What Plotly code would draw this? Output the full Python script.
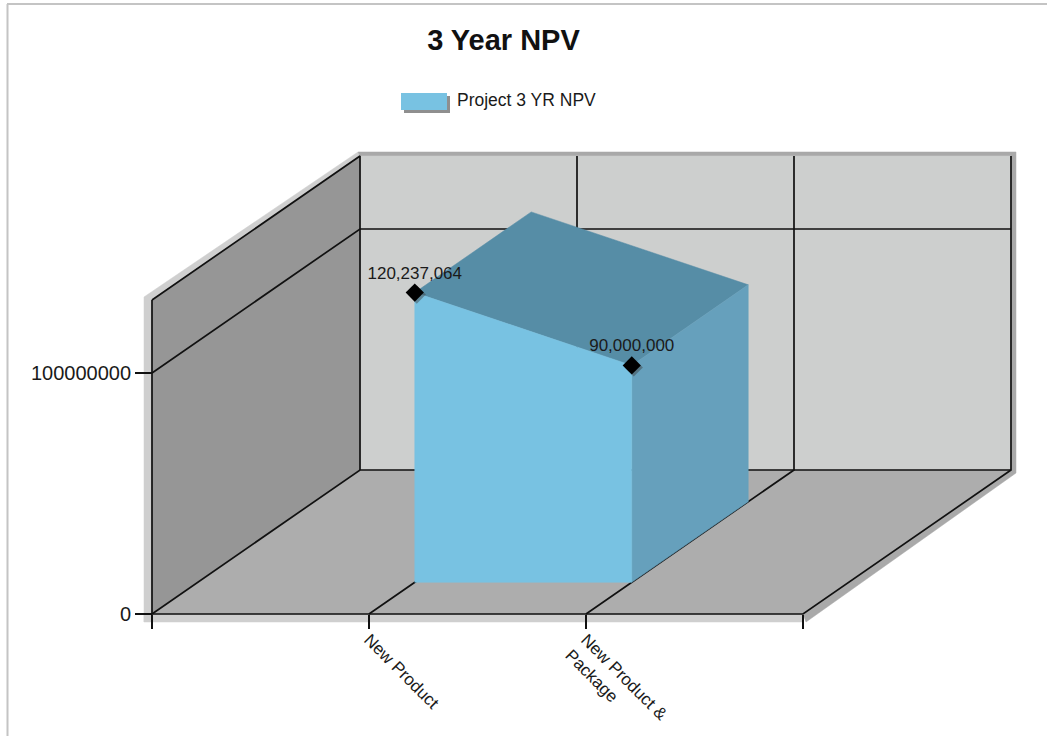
import plotly.graph_objects as go

# ---- data ----
categories = ["New Product", "New Product &<br>Package"]
category_positions = [1, 2]
npv_values = [120237064, 90000000]
npv_labels = ["120,237,064", "90,000,000"]
series_name = "Project 3 YR NPV"
title_text = "3 Year NPV"
y_ticks = [0, 100000000]
y_tick_labels = ["0", "100000000"]
x_span = 3
y_top = 130300000

# ---- layout of the pseudo-3D view (pixels) ----
W, H = 1047, 736
X0_PX, Y0_PX = 152, 614          # where category 0 / value 0 sits
PX_PER_CAT = 217.0
PX_PER_VAL = 241.0 / 100000000
DEPTH_DX, DEPTH_DY = 208.0, 144.0
SERIES_FRONT, SERIES_BACK = 0.22, 0.78


def P(cat, val, depth=0.0, ox=0.0, oy=0.0):
    """Oblique projection to axis units; ox/oy are pixel nudges (y down)."""
    x = cat + (depth * DEPTH_DX + ox) / PX_PER_CAT
    y = val + (depth * DEPTH_DY - oy) / PX_PER_VAL
    return x, y


def poly(points, color):
    xs, ys = zip(*points)
    return go.Scatter(x=list(xs) + [xs[0]], y=list(ys) + [ys[0]], mode="lines", fill="toself",
                      fillcolor=color, line=dict(color=color, width=0.5), hoverinfo="skip",
                      showlegend=False)


def line(points, width=1.7, color="#111111"):
    xs, ys = zip(*points)
    return go.Scatter(x=list(xs), y=list(ys), mode="lines", line=dict(color=color, width=width),
                      hoverinfo="skip", showlegend=False)


fig = go.Figure()
LIGHT, DARK = "#CFCFCF", "#A9A9A9"
WALL, SIDE, FLOOR = "#CDCFCE", "#969696", "#ADADAD"
FRONT, RIGHT, TOP = "#78C2E2", "#66A0BC", "#568DA6"

# frame thickness
fig.add_trace(poly([P(0, 0, 0, -8, 8), P(x_span, 0, 0, 0, 8), P(x_span, 0), P(0, 0), P(0, 0, 0, -8, 0)], LIGHT))
fig.add_trace(poly([P(0, 0, 0, -8, 8), P(0, y_top, 0, -8, -3), P(0, y_top, 1, -2, -4), P(0, y_top, 1), P(0, y_top), P(0, 0)], LIGHT))
fig.add_trace(poly([P(0, y_top, 1, -2, -4), P(x_span, y_top, 1, 5, -4), P(x_span, 0, 1, 5, 3), P(x_span, 0, 0, 3, 8),
                    P(x_span, 0), P(x_span, 0, 1), P(x_span, y_top, 1), P(0, y_top, 1)], DARK))
# walls and floor
fig.add_trace(poly([P(0, 0, 1), P(x_span, 0, 1), P(x_span, y_top, 1), P(0, y_top, 1)], WALL))
fig.add_trace(poly([P(0, 0), P(0, 0, 1), P(0, y_top, 1), P(0, y_top)], SIDE))
fig.add_trace(poly([P(0, 0), P(x_span, 0), P(x_span, 0, 1), P(0, 0, 1)], FLOOR))

# wireframe and grid
for g in y_ticks:
    fig.add_trace(line([P(0, g), P(0, g, 1), P(x_span, g, 1)]))
for c in category_positions:
    fig.add_trace(line([P(c, 0), P(c, 0, 1), P(c, y_top, 1)]))
fig.add_trace(line([P(0, y_top), P(0, y_top, 1), P(0, 0, 1)]))
fig.add_trace(line([P(x_span, y_top, 1), P(x_span, 0, 1), P(x_span, 0), P(0, 0), P(0, y_top)]))

# the area series as a solid between two depths
c1, c2 = category_positions
v1, v2 = npv_values
fig.add_trace(poly([P(c1, v1, SERIES_FRONT), P(c2, v2, SERIES_FRONT), P(c2, v2, SERIES_BACK), P(c1, v1, SERIES_BACK)], TOP))
fig.add_trace(poly([P(c2, 0, SERIES_FRONT), P(c2, 0, SERIES_BACK), P(c2, v2, SERIES_BACK), P(c2, v2, SERIES_FRONT)], RIGHT))
fig.add_trace(poly([P(c1, 0, SERIES_FRONT), P(c2, 0, SERIES_FRONT), P(c2, v2, SERIES_FRONT), P(c1, v1, SERIES_FRONT)], FRONT))

# legend entry: real legend text, the larger key is the rectangle shape below
fig.add_trace(go.Scatter(x=[None], y=[None], mode="lines", line=dict(width=0, color=FRONT),
                         name=series_name, showlegend=True, hoverinfo="skip"))

# markers and value labels
pts = [P(c, v, SERIES_FRONT) for c, v in zip(category_positions, npv_values)]
shadow = [P(c, v, SERIES_FRONT, 2, 2) for c, v in zip(category_positions, npv_values)]
fig.add_trace(go.Scatter(x=[p[0] for p in shadow], y=[p[1] for p in shadow], mode="markers",
                         marker=dict(symbol="diamond", size=14, color="rgba(60,60,60,0.45)"),
                         hoverinfo="skip", showlegend=False))
fig.add_trace(go.Scatter(x=[p[0] for p in pts], y=[p[1] for p in pts], mode="markers+text",
                         marker=dict(symbol="diamond", size=14, color="#000000"),
                         text=npv_labels, textposition="top center",
                         textfont=dict(family="Liberation Sans", size=17, color="#1a1a1a"),
                         hoverinfo="skip", showlegend=False))

fig.update_layout(
    width=W, height=H, margin=dict(l=0, r=0, t=0, b=0), autosize=False,
    paper_bgcolor="white", plot_bgcolor="white",
    font=dict(family="Liberation Sans", color="#1a1a1a"),
    title=dict(text=f"<b>{title_text}</b>", x=503.5 / W, xanchor="center", y=1 - 40 / H, yanchor="middle",
               font=dict(family="Liberation Sans", size=29, color="#111111")),
    showlegend=True,
    legend=dict(x=401 / W, y=1 - 99.5 / H, xanchor="left", yanchor="middle", bgcolor="rgba(0,0,0,0)",
                itemwidth=46, font=dict(family="Liberation Sans", size=17.5, color="#1a1a1a")),
    xaxis=dict(range=[-X0_PX / PX_PER_CAT, (W - X0_PX) / PX_PER_CAT], anchor="free", position=(H - Y0_PX) / H,
               tickmode="array", tickvals=[0] + category_positions + [x_span], ticktext=[""] + categories + [""],
               ticks="outside", ticklen=14, tickwidth=1.6, tickcolor="#111111", tickangle=45,
               ticklabelstandoff=-6,
               tickfont=dict(family="Liberation Sans", size=17, color="#1a1a1a"),
               showgrid=False, zeroline=False, showline=False, automargin=False, fixedrange=True),
    yaxis=dict(range=[-(H - Y0_PX) / PX_PER_VAL, Y0_PX / PX_PER_VAL], anchor="free", position=X0_PX / W,
               tickmode="array", tickvals=y_ticks, ticktext=y_tick_labels,
               ticks="outside", ticklen=17, tickwidth=1.6, tickcolor="#111111",
               tickfont=dict(family="Liberation Sans", size=20, color="#1a1a1a"),
               showgrid=False, zeroline=False, showline=False, automargin=False, fixedrange=True),
    shapes=[
        dict(type="line", xref="paper", yref="paper", x0=7.5 / W, x1=7.5 / W, y0=0, y1=1 - 4 / H,
             line=dict(color="#C4C4C4", width=2)),
        dict(type="line", xref="paper", yref="paper", x0=7 / W, x1=1, y0=1 - 4 / H, y1=1 - 4 / H,
             line=dict(color="#C4C4C4", width=2)),
        dict(type="rect", xref="paper", yref="paper", x0=404 / W, x1=450 / W, y0=1 - 113 / H, y1=1 - 96 / H,
             fillcolor="#8F8F8F", line=dict(width=0), layer="above"),
        dict(type="rect", xref="paper", yref="paper", x0=401 / W, x1=447 / W, y0=1 - 110 / H, y1=1 - 93 / H,
             fillcolor=FRONT, line=dict(width=0), layer="above"),
    ],
)
fig.write_html("out.html", config=dict(displayModeBar=False), post_script="document.body.style.margin='0';")
